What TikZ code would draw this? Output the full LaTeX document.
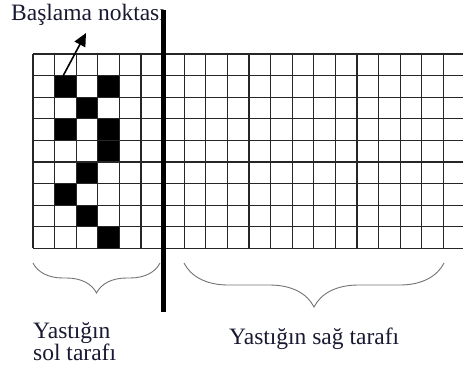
\documentclass[tikz,border=0pt]{standalone}
\usepackage{fontspec}
\setmainfont{Liberation Serif}
\usetikzlibrary{arrows.meta,decorations.pathreplacing}
\definecolor{textc}{RGB}{25,25,50}
\begin{document}
\begin{tikzpicture}[x=1pt,y=-1pt,
  gridline/.style={line width=1.2pt, black!85},
  bracestyle/.style={decorate, decoration={brace, mirror, amplitude=#1}, line width=0.9pt, black!55},
  lbl/.style={font=\fontsize{23.5}{22.5}\selectfont, inner sep=0pt, text=textc},
  divider/.style={line width=4.3pt, black},
  pointer/.style={line width=1.6pt, -{Triangle[length=13pt,width=12pt]}}]
\useasboundingbox (0,0) rectangle (463,373);
% black cells
\foreach \r/\c in {1/1,1/3,2/2,3/1,3/3,4/3,5/2,6/1,7/2,8/3}
  \fill[black] (33+\c*21.6, 54+\r*21.6) rectangle ++(21.6,21.6);
% grid
\foreach \r in {0,...,9}
  \draw[gridline] (33,54+\r*21.6) -- (463,54+\r*21.6);
\foreach \c in {0,...,19}
  \draw[gridline] (33+\c*21.6,54) -- (33+\c*21.6,248.4);
% title
\node[lbl, anchor=base west] (title) at (11,20) {Başlama noktası};
% divider
\coordinate (divtop) at (163.5,10);
\coordinate (divbot) at (163.5,312);
\draw[divider] (divtop) -- (divbot);
% pointer arrow
\coordinate (start) at (63,76);
\coordinate (tip) at (86,33);
\draw[pointer] (start) -- (tip);
% braces
\coordinate (lb1) at (33,263);
\coordinate (lb2) at (160,263);
\draw[bracestyle=30] (lb1) -- (lb2);
\coordinate (rb1) at (184,263);
\coordinate (rb2) at (444,263);
\draw[bracestyle=44] (rb1) -- (rb2);
% labels
\node[lbl, anchor=north west, align=left] (leftlab) at (33,322) {Yastığın\\sol tarafı};
\node[lbl, anchor=base west] (rightlab) at (229,344) {Yastığın sağ tarafı};
\end{tikzpicture}
\end{document}
